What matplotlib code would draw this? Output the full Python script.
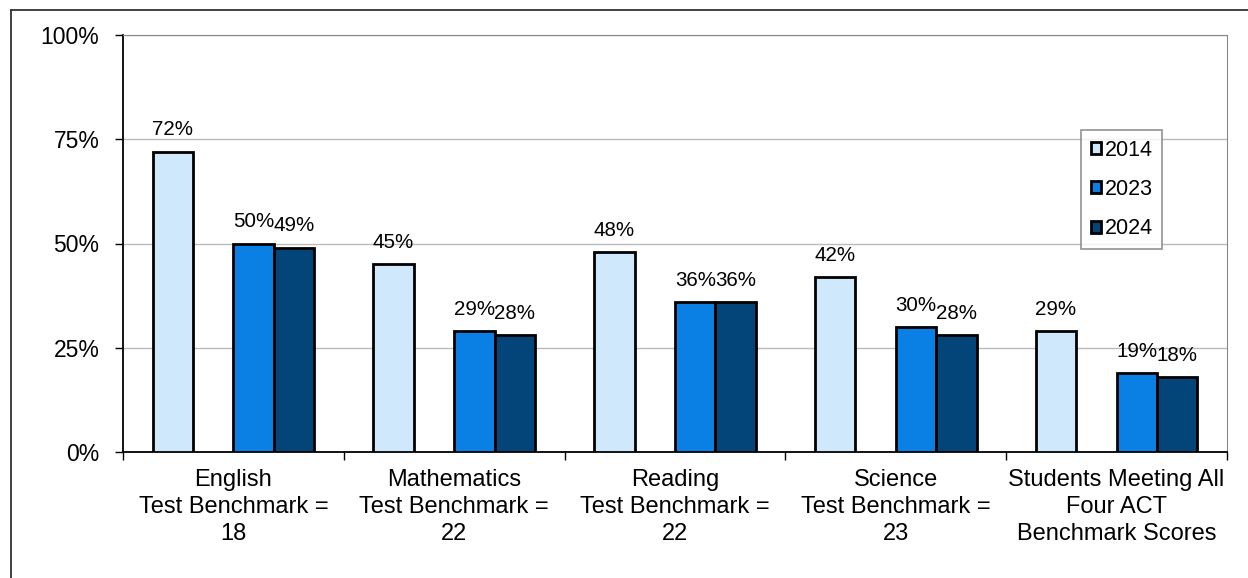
import numpy as np
import matplotlib
import matplotlib.pyplot as plt
from matplotlib.lines import Line2D
from matplotlib.ticker import FixedLocator

matplotlib.use('Agg')
plt.rcParams['font.family'] = ['Liberation Sans', 'DejaVu Sans']

# data
categories = ['English\nTest Benchmark =\n18',
              'Mathematics\nTest Benchmark =\n22',
              'Reading\nTest Benchmark =\n22',
              'Science\nTest Benchmark =\n23',
              'Students Meeting All\nFour ACT\nBenchmark Scores']
years = ['2014', '2023', '2024']
vals_2014 = [72, 45, 48, 42, 29]
vals_2023 = [50, 29, 36, 30, 19]
vals_2024 = [49, 28, 36, 28, 18]
y_ticks = [0, 25, 50, 75, 100]
y_tick_labels = ['0%', '25%', '50%', '75%', '100%']

colors = ['#D0E8FB', '#0A80E4', '#034579']
series = [vals_2014, vals_2023, vals_2024]
slots = [0, 2, 3]  # slot 1 is left empty

fig = plt.figure(figsize=(12.48, 5.78), dpi=100)
ax = fig.add_axes([123 / 1248, 1 - 452 / 578, (1227 - 123) / 1248, (452 - 35) / 578])

x = np.arange(len(categories))
w = 0.183
for vals, col, slot, yr in zip(series, colors, slots, years):
    pos = x + (slot - 1.5) * w
    bars = ax.bar(pos, vals, width=w, color=col, edgecolor='black', linewidth=2,
                  label=yr, zorder=3)
    for b, v in zip(bars, vals):
        ax.text(b.get_x() + b.get_width() / 2, v + 3.9, f'{v}%', ha='center',
                va='baseline', fontsize=14.8)

ax.set_xlim(-0.5, len(categories) - 0.5)
ax.set_ylim(0, 100)
ax.set_yticks(y_ticks)
ax.set_yticklabels(y_tick_labels, fontsize=16.5)
ax.yaxis.grid(True, color='#BBBBBB', linewidth=1, zorder=0)
ax.tick_params(axis='y', length=6, width=1, pad=11)

ax.set_xticks(x)
ax.set_xticklabels(categories, fontsize=17, linespacing=1.3)
ax.tick_params(axis='x', length=0, pad=12)
ax.xaxis.set_minor_locator(FixedLocator(np.arange(-0.5, len(categories), 1.0)))
ax.tick_params(axis='x', which='minor', length=6, width=1)

for s in ['top', 'right']:
    ax.spines[s].set_color('#888888')
for s in ['left', 'bottom']:
    ax.spines[s].set_color('black')
    ax.spines[s].set_linewidth(1.3)

leg = ax.legend(loc='upper left', bbox_to_anchor=((1081 - 123) / 1104, (452 - 130) / 417),
                fontsize=15.5, frameon=True, fancybox=False, edgecolor='#777777',
                handlelength=0.5, handleheight=0.5, handletextpad=0.15,
                labelspacing=0.85, borderpad=0.45, borderaxespad=0)
leg.get_frame().set_linewidth(1.2)
for h in leg.legend_handles:
    h.set_linewidth(2)

# outer frame
fig.add_artist(Line2D([11 / 1248, 1.0], [1 - 10 / 578, 1 - 10 / 578], color='#333333', lw=1.3))
fig.add_artist(Line2D([11 / 1248, 11 / 1248], [0, 1 - 10 / 578], color='#333333', lw=1.3))

fig.savefig('out.png', dpi=100)
